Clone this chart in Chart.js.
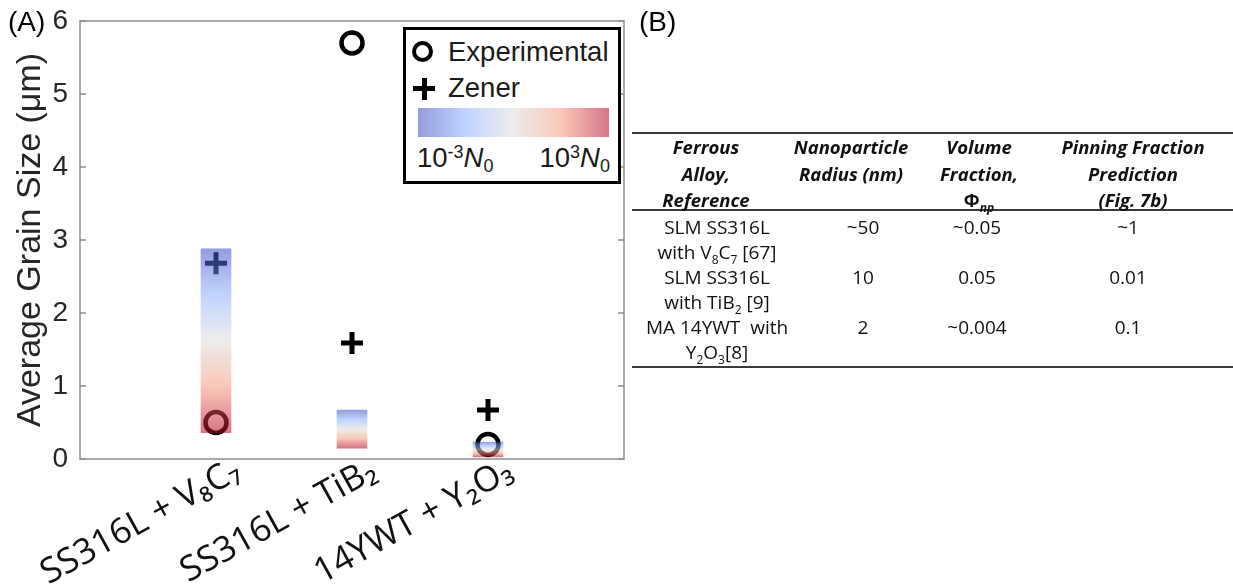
<!DOCTYPE html>
<html>
<head>
<meta charset="utf-8">
<script src="https://cdn.jsdelivr.net/npm/chart.js@4/dist/chart.umd.min.js"></script>
<style>
  html,body{margin:0;padding:0;background:#fff;}
  #wrap{position:relative;width:1233px;height:588px;overflow:hidden;background:#fff;}
  #cv{position:absolute;left:0;top:0;}
  .lbl{position:absolute;font-family:"Liberation Sans",Arial,sans-serif;font-size:28px;color:#000;line-height:30px;}
  #legend{position:absolute;left:403px;top:27px;width:218px;height:157px;box-sizing:border-box;border:3px solid #000;background:#fff;font-family:"Liberation Sans",Arial,sans-serif;color:#1a1a1a;}
  #legend .t{position:absolute;font-size:27.5px;line-height:30px;white-space:nowrap;}
  #legend .circ{position:absolute;width:13px;height:13px;border:4.5px solid #000;border-radius:50%;}
  #legend .ph{position:absolute;background:#000;}
  #cbar{position:absolute;}
  #legend sup{font-size:18px;vertical-align:9px;line-height:0;}
  #legend sub{font-size:18px;vertical-align:-5px;line-height:0;}
  #tb{position:absolute;left:0;top:0;width:1233px;height:588px;font-family:"Open Sans",sans-serif;color:#111;}
  #tb .rule{position:absolute;left:632px;width:601px;height:2px;background:#3a3a3a;}
  #tb .cell{position:absolute;width:300px;text-align:center;white-space:nowrap;}
  #tb .hd{font-weight:700;font-style:italic;font-size:18.5px;line-height:26.5px;}
  #tb .bd{font-size:19px;line-height:25px;}
  #tb sub{font-size:12px;vertical-align:-5px;line-height:0;}
  #tb .up{font-style:normal;}
</style>
</head>
<body>
<div id="wrap">
  <canvas id="cv" width="640" height="588"></canvas>
  <div class="lbl" style="left:8px;top:7px;">(A)</div>
  <div class="lbl" style="left:639px;top:7px;">(B)</div>
  <div id="legend"></div>
  <div id="tb"></div>
</div>
<script>
// ---- data ----
const categories = ['SS316L + V\u2088C\u2087', 'SS316L + TiB\u2082', '14YWT + Y\u2082O\u2083'];
const experimental = [0.5, 5.7, 0.2];
const zener = [2.68, 1.59, 0.67];
const rangeLow = [0.36, 0.15, 0.03];
const rangeHigh = [2.88, 0.67, 0.23];
const yTicks = [0, 1, 2, 3, 4, 5, 6];
const legendLabels = ['Experimental', 'Zener'];
const colorbarLabels = ['10<sup>-3</sup><i>N</i><sub>0</sub>', '10<sup>3</sup><i>N</i><sub>0</sub>'];
const tableHeaders = ['Ferrous<br>Alloy,<br>Reference', 'Nanoparticle<br>Radius (nm)', 'Volume<br>Fraction,<br><span class="up">&Phi;</span><sub>np</sub>', 'Pinning Fraction<br>Prediction<br>(Fig. 7b)'];
const tableAlloys = ['SLM SS316L<br>with V<sub>8</sub>C<sub>7</sub> [67]', 'SLM SS316L<br>with TiB<sub>2</sub> [9]', 'MA 14YWT&nbsp; with<br>Y<sub>2</sub>O<sub>3</sub>[8]'];
const tableRadius = ['~50', '10', '2'];
const tableVolume = ['~0.05', '0.05', '~0.004'];
const tablePinning = ['~1', '0.01', '0.1'];

// coolwarm colormap (semi-transparent)
const cw = [[0,[59,76,192]],[0.25,[141,176,254]],[0.5,[221,221,221]],[0.75,[244,154,123]],[1,[180,4,38]]];
const cwAlpha = 0.55;

function barGradient(ctx) {
  const chart = ctx.chart;
  if (!chart.chartArea || ctx.type !== 'data' || !ctx.raw) return 'rgba(221,221,221,0.5)';
  const y = chart.scales.y;
  const top = y.getPixelForValue(ctx.raw.y[1]);
  const bot = y.getPixelForValue(ctx.raw.y[0]);
  const g = chart.ctx.createLinearGradient(0, top, 0, bot);
  cw.forEach(([p, c]) => g.addColorStop(p, `rgba(${c[0]},${c[1]},${c[2]},${cwAlpha})`));
  return g;
}

const framePlugin = {
  id: 'frame',
  afterDraw(chart) {
    const {ctx, chartArea: a, scales: {y}} = chart;
    ctx.save();
    ctx.strokeStyle = '#8c8c8c';
    ctx.lineWidth = 1.5;
    ctx.strokeRect(a.left, a.top, a.right - a.left, a.bottom - a.top);
    ctx.beginPath();
    y.ticks.forEach(t => {
      const py = y.getPixelForValue(t.value);
      ctx.moveTo(a.left, py); ctx.lineTo(a.left + 6, py);
      ctx.moveTo(a.right, py); ctx.lineTo(a.right - 6, py);
    });
    ctx.stroke();
    ctx.restore();
  }
};

new Chart(document.getElementById('cv'), {
  data: {
    datasets: [
      {
        type: 'bar',
        label: 'Range',
        order: 0,
        data: categories.map((c, i) => ({x: i + 1, y: [rangeLow[i], rangeHigh[i]]})),
        backgroundColor: barGradient,
        borderWidth: 0,
        barThickness: 30
      },
      {
        type: 'scatter',
        label: legendLabels[0],
        order: 1,
        data: categories.map((c, i) => ({x: i + 1, y: experimental[i]})),
        pointStyle: 'circle',
        radius: 10.5,
        borderWidth: 4.5,
        borderColor: '#000',
        backgroundColor: 'rgba(0,0,0,0)'
      },
      {
        type: 'scatter',
        label: legendLabels[1],
        order: 2,
        data: categories.map((c, i) => ({x: i + 1, y: zener[i]})),
        pointStyle: 'cross',
        radius: 11,
        borderWidth: 5,
        borderColor: '#000'
      }
    ]
  },
  options: {
    responsive: false,
    devicePixelRatio: 1,
    animation: false,
    layout: {padding: {top: 21, right: 13, left: 0, bottom: 0}},
    plugins: {legend: {display: false}, tooltip: {enabled: false}},
    scales: {
      x: {
        type: 'linear',
        offset: false,
        min: 0, max: categories.length + 1,
        grid: {display: false, drawTicks: false},
        border: {display: false},
        afterBuildTicks: s => { s.ticks = [0, 1, 2, 3, 4].map(v => ({value: v})); },
        afterFit: s => { s.height = 129; s.paddingLeft = 0; s.paddingRight = 0; },
        ticks: {
          autoSkip: false,
          minRotation: 29, maxRotation: 29,
          padding: -9,
          labelOffset: 22,
          color: '#111',
          font: {family: 'Open Sans', size: 35},
          callback: v => (v >= 1 && v <= categories.length) ? categories[v - 1] : ''
        }
      },
      y: {
        min: 0, max: 6,
        afterBuildTicks: s => { s.ticks = yTicks.map(v => ({value: v})); },
        afterFit: s => { s.width = 80; s.paddingTop = 0; s.paddingBottom = 0; },
        grid: {display: false, drawTicks: false},
        border: {display: false},
        ticks: {
          padding: 12,
          color: '#262626',
          font: {family: 'Liberation Sans', size: 28}
        },
        title: {
          display: true,
          text: 'Average Grain Size (\u03bcm)',
          color: '#262626',
          font: {family: 'Liberation Sans', size: 34},
          padding: {top: 10, bottom: 0}
        }
      }
    }
  },
  plugins: [framePlugin]
});

// ---- legend (HTML overlay) ----
(function () {
  const L = document.getElementById('legend');
  const ox = 406, oy = 30; // inner origin (left/top + border)
  const add = (html) => { L.insertAdjacentHTML('beforeend', html); };
  add(`<div class="circ" style="left:${412 - ox}px;top:${41 - oy}px;"></div>`);
  add(`<div class="t" style="left:${448 - ox}px;top:${37 - oy}px;">${legendLabels[0]}</div>`);
  add(`<div class="ph" style="left:${413 - ox}px;top:${86 - oy}px;width:22px;height:5px;"></div>`);
  add(`<div class="ph" style="left:${421.5 - ox}px;top:${77.5 - oy}px;width:5px;height:22px;"></div>`);
  add(`<div class="t" style="left:${448 - ox}px;top:${73 - oy}px;">${legendLabels[1]}</div>`);
  const stops = cw.map(([p, c]) => `rgba(${c[0]},${c[1]},${c[2]},${cwAlpha}) ${p * 100}%`).join(',');
  add(`<div id="cbar" style="left:${418 - ox}px;top:${108 - oy}px;width:191px;height:29px;background:linear-gradient(to right,${stops});"></div>`);
  add(`<div class="t" style="left:${417 - ox}px;top:${143 - oy}px;">${colorbarLabels[0]}</div>`);
  add(`<div class="t" style="right:${621 - 3 - 610}px;top:${143 - oy}px;text-align:right;">${colorbarLabels[1]}</div>`);
})();

// ---- table (B) ----
(function () {
  const T = document.getElementById('tb');
  const hdCenters = [706, 851, 979, 1133];
  const bdCenters = [717, 863, 977, 1128];
  let h = '';
  [132, 209, 366].forEach(y => { h += `<div class="rule" style="top:${y}px"></div>`; });
  tableHeaders.forEach((t, j) => {
    h += `<div class="cell hd" style="left:${hdCenters[j] - 150}px;top:134px;">${t}</div>`;
  });
  const rowTop = 214.5, rowH = 50;
  tableAlloys.forEach((a, i) => {
    const y = rowTop + i * rowH;
    const vals = [a, tableRadius[i], tableVolume[i], tablePinning[i]];
    vals.forEach((v, j) => {
      h += `<div class="cell bd" style="left:${bdCenters[j] - 150}px;top:${y}px;">${v}</div>`;
    });
  });
  T.innerHTML = h;
})();
</script>
</body>
</html>
